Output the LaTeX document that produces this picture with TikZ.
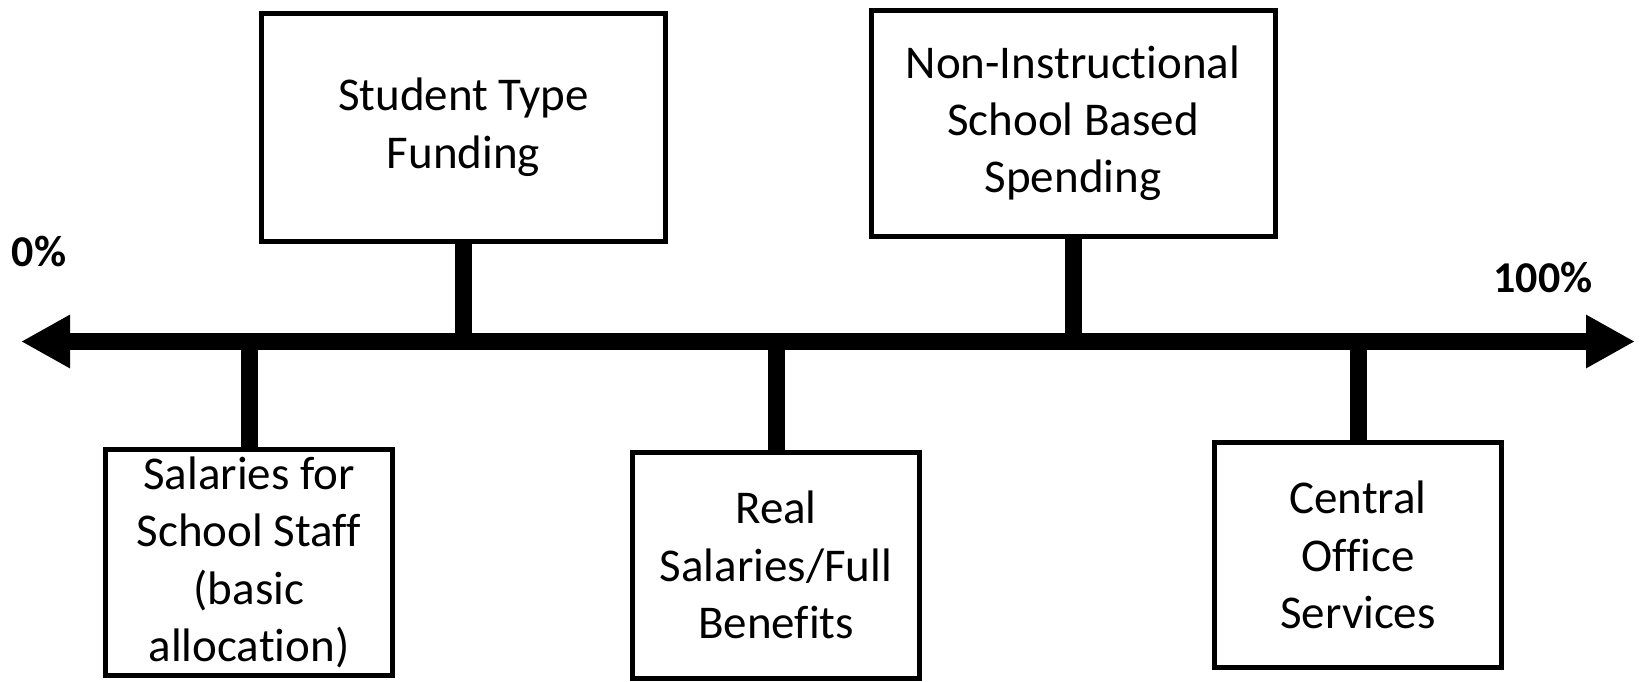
\documentclass[tikz,border=0pt]{standalone}
\usepackage{fontspec}
\setmainfont{Carlito}[Ligatures={NoCommon}]
\usetikzlibrary{arrows.meta}
\begin{document}
\begin{tikzpicture}[x=0.5pt,y=-0.5pt,
  box/.style={draw=black, line width=2.5pt, fill=white, align=center, inner sep=0pt,
    font=\fontsize{23.5}{28.6}\selectfont},
  topbox/.style={box, minimum width=202pt, minimum height=114pt},
  botbox/.style={box, minimum width=143.5pt, minimum height=113pt},
  stem/.style={line width=8.5pt, line cap=butt},
  axis/.style={line width=8.5pt, {Triangle[length=24.5pt,width=25pt]}-{Triangle[length=24.5pt,width=25pt]}},
  pct/.style={font=\fontsize{22}{26}\selectfont\bfseries, inner sep=0pt, anchor=base}
]
\useasboundingbox (0,0) rectangle (1643,681);

\coordinate (L) at (21,341.5);
\coordinate (R) at (1635,341.5);

\node[topbox] (b1) at (463.5,127.25) {Student Type\\Funding};
\node[topbox, minimum height=113pt] (b2) at (1073,123.5) {Non-Instructional\\School Based\\Spending};
\node[botbox] (s1) at (249,562.5) {Salaries for\\School Staff\\(basic\\allocation)};
\node[botbox] (s2) at (776,565) {Real\\Salaries/Full\\Benefits};
\node[botbox, minimum height=112.5pt] (s3) at (1358,555) {Central\\Office\\Services};

\draw[stem] (b1.south) -- (b1.south |- L);
\draw[stem] (b2.south) -- (b2.south |- L);
\draw[stem] (s1.north) -- (s1.north |- L);
\draw[stem] (s2.north) -- (s2.north |- L);
\draw[stem] (s3.north) -- (s3.north |- L);

\draw[axis] (L) -- (R);

\node[pct] (p0) at (39,266) {0\%};
\node[pct] (p100) at (1543,292) {100\%};
\end{tikzpicture}
\end{document}
